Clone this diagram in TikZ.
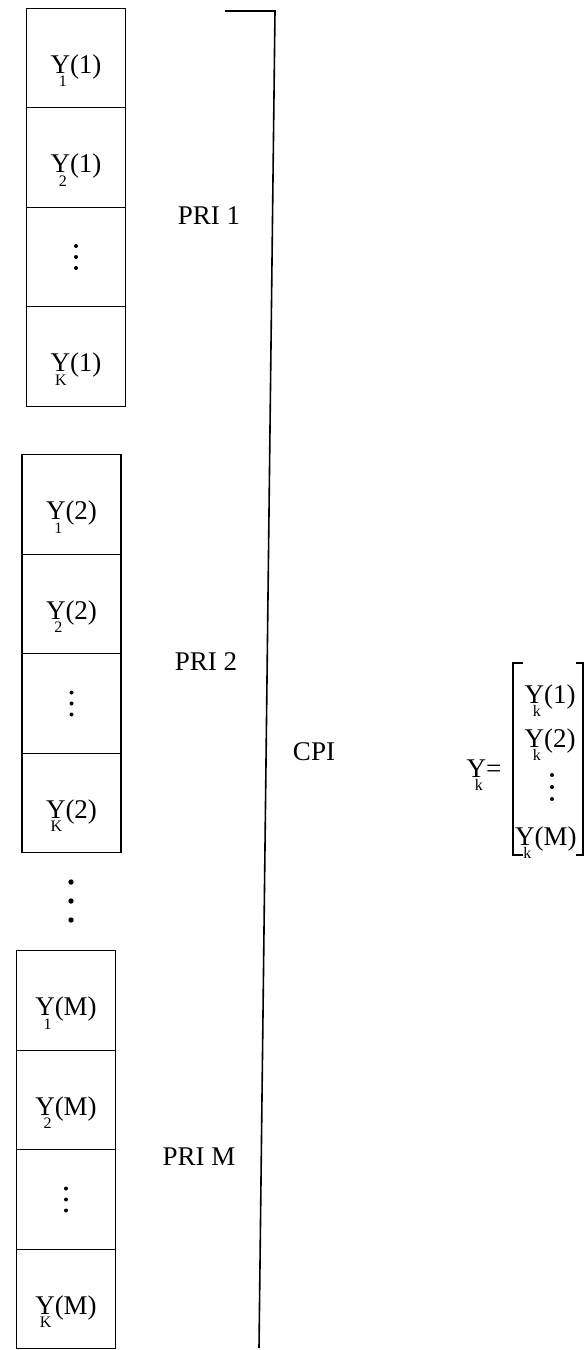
\documentclass[tikz,border=0pt]{standalone}
\usepackage{fontspec}
\setmainfont{Liberation Serif}
\usetikzlibrary{calc}
\newcommand\ysb[2]{Y\llap{\raisebox{-0.5em}{\fontsize{16}{16}\selectfont #1}\kern0.12em}(#2)}
\begin{document}
\begin{tikzpicture}[x=1pt,y=-1pt,
  cell/.style={draw, line width=1.3pt, minimum width=99pt, minimum height=99.5pt,
    inner sep=0pt, text height=30pt, text depth=0pt, font=\fontsize{27}{30}\selectfont},
  lbl/.style={inner sep=0pt, font=\fontsize{27}{30}\selectfont},
  brk/.style={line width=1.6pt}]
\useasboundingbox (0,0) rectangle (584,1350);
% group 1
\node[cell] (a1) at (76,58) {\ysb{1}{1}};
\node[cell] (a2) at (76,157.5) {\ysb{2}{1}};
\node[cell] (a3) at (76,257) {};
\node[cell] (a4) at (76,356.5) {\ysb{K}{1}};
% group 2
\node[cell] (b1) at (71.5,504.5) {\ysb{1}{2}};
\node[cell] (b2) at (71.5,604) {\ysb{2}{2}};
\node[cell] (b3) at (71.5,703.5) {};
\node[cell] (b4) at (71.5,803) {\ysb{K}{2}};
% group 3
\node[cell] (c1) at (66,1000.5) {\ysb{1}{M}};
\node[cell] (c2) at (66,1100) {\ysb{2}{M}};
\node[cell] (c3) at (66,1199.5) {};
\node[cell] (c4) at (66,1299) {\ysb{K}{M}};
% small dots inside boxes
\foreach \n in {a3,b3,c3}{
  \foreach \d in {-11,0,11} \fill ($(\n.center)+(0,\d)$) circle (2pt);
}
% dots between groups
\coordinate (gd) at (71,901);
\foreach \d in {-19,0,19} \fill ($(gd)+(0,\d)$) circle (2.7pt);
% labels
\node[lbl] (p1) at (209,216) {PRI 1};
\node[lbl] (p2) at (206,662) {PRI 2};
\node[lbl] (p3) at (199,1157) {PRI M};
\node[lbl] (cpi) at (314,752) {CPI};
% big bracket
\coordinate (t0) at (225,11);
\coordinate (t1) at (275,11);
\coordinate (bb) at (259,1348);
\draw[brk] (t0) -- (t1) -- (bb);
% vector
\node[lbl, anchor=base] (yk) at (484,777) {Y\llap{\raisebox{-0.5em}{\fontsize{16}{16}\selectfont k}\kern0.12em}=};
\node[lbl, anchor=base] (m1) at (550,703) {\ysb{k}{1}};
\node[lbl, anchor=base] (m2) at (550,747) {\ysb{k}{2}};
\coordinate (md) at (552,787);
\foreach \d in {-12,0,12} \fill ($(md)+(0,\d)$) circle (2pt);
\node[lbl, anchor=base west] (m4) at (515,845) {\ysb{k}{M}};
\coordinate (l0) at (523,663);
\coordinate (l1) at (513,663);
\coordinate (l2) at (513,855);
\coordinate (l3) at (523,855);
\draw[line width=1.2pt] (l0) -- (l1) -- (l2) -- (l3);
\coordinate (r0) at (576,663);
\coordinate (r1) at (583,663);
\coordinate (r2) at (583,855);
\coordinate (r3) at (576,855);
\draw[line width=1.2pt] (r0) -- (r1) -- (r2) -- (r3);
\end{tikzpicture}
\end{document}
